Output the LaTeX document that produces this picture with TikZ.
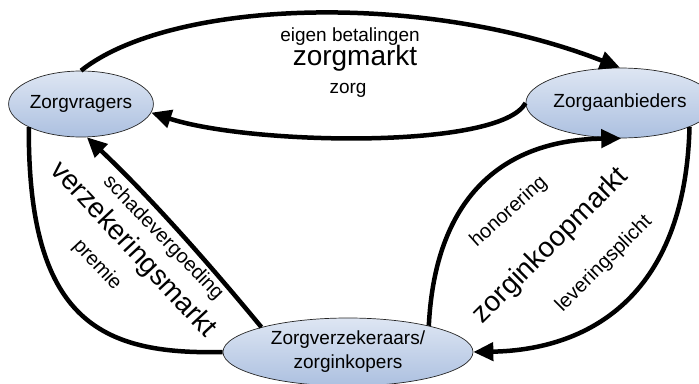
\documentclass[tikz,border=0pt]{standalone}
\usepackage{fontspec}
\setmainfont{Liberation Sans}
\usetikzlibrary{shapes.geometric,arrows.meta}

\definecolor{ovaltop}{RGB}{222,230,243}
\definecolor{ovalbottom}{RGB}{172,192,224}

\tikzset{
  actor/.style={ellipse, draw=black!85, line width=0.7pt, inner sep=0pt,
    top color=ovaltop, bottom color=ovalbottom,
    font=\fontsize{19}{24}\selectfont, align=center},
  flow/.style={line width=4.5pt, -{Triangle[length=20pt,width=18pt]}},
  plainflow/.style={line width=4.5pt},
  lbl/.style={font=\fontsize{19}{22}\selectfont, inner sep=0pt},
  rlbl/.style={font=\fontsize{20}{22}\selectfont, inner sep=0pt},
  big/.style={font=\fontsize{28}{30}\selectfont, inner sep=0pt}
}

\begin{document}
\begin{tikzpicture}[x=1pt,y=-1pt]
  \useasboundingbox (0,0) rectangle (699,383);

  % the three parties
  \node[actor, minimum width=142pt, minimum height=66pt] (vrag) at (81,104) {Zorgvragers};
  \node[actor, minimum width=154pt, minimum height=70pt] (aanb) at (620,103) {Zorgaanbieders};
  \node[actor, minimum width=250pt, minimum height=68pt] (verz) at (348,352)
    {Zorgverzekeraars/\\zorginkopers};

  % zorgmarkt
  \draw[flow] (vrag.north) .. controls (170,0) and (420,-10) .. (aanb.north);
  \draw[flow] (aanb.west) .. controls (500,150) and (250,145) .. (vrag.-7);

  % verzekeringsmarkt
  \draw[plainflow] (vrag.204) .. controls (28,320) and (100,355) .. (verz.west);
  \draw[flow] (verz.164) .. controls (206,260) and (149,196) .. (vrag.-80);

  % zorginkoopmarkt
  \draw[flow] (verz.18) .. controls (435,200) and (500,140) .. (aanb.-88);
  \draw[flow] (aanb.-19) .. controls (685,300) and (585,350) .. (verz.east);

  % labels
  \node[lbl] (eb) at (350,37) {eigen betalingen};
  \node[big] (zm) at (355,58) {zorgmarkt};
  \node[lbl] (zg) at (348,90) {zorg};

  \node[big, rotate=-47] (vm) at (133,250) {verzekeringsmarkt};
  \node[rlbl, rotate=-46] (sv) at (163,238) {schadevergoeding};
  \node[rlbl, rotate=-47] (pr) at (97,265) {premie};

  \node[rlbl, rotate=42] (ho) at (509,212) {honorering};
  \node[big, rotate=45] (zk) at (551,246) {zorginkoopmarkt};
  \node[rlbl, rotate=45] (lp) at (604,264) {leveringsplicht};
\end{tikzpicture}
\end{document}
